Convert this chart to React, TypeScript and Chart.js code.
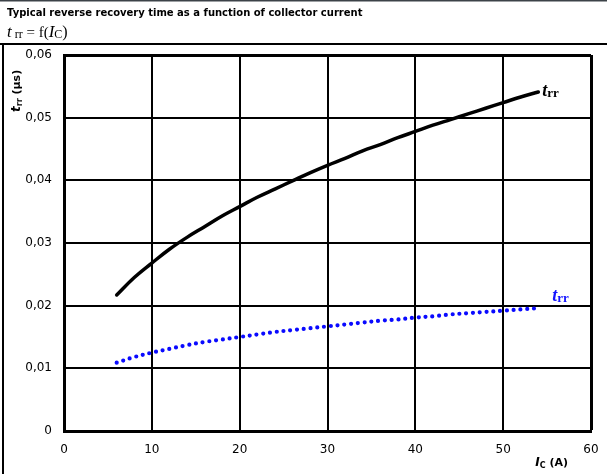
import React, { useEffect, useRef } from 'react';
import { Chart, registerables } from 'chart.js';

Chart.register(...registerables);

// Collector current I_C (A)
const currentA = [6, 8, 10, 12, 14, 16, 18, 20, 22, 24, 26, 28, 30, 32, 34, 36, 38, 40, 42, 44, 46, 48, 50, 52, 54];
// t_rr (µs) black solid curve
const trrBlack = [0.0217, 0.0245, 0.0268, 0.029, 0.0309, 0.0326, 0.0343, 0.0358, 0.0373, 0.0386, 0.0399, 0.0412, 0.0424, 0.0435, 0.0447, 0.0457, 0.0468, 0.0478, 0.0488, 0.0497, 0.0506, 0.0515, 0.0524, 0.0533, 0.0541];
// t_rr (µs) blue dotted curve
const trrBlue = [0.0109, 0.0118, 0.0125, 0.0131, 0.0137, 0.0142, 0.0146, 0.015, 0.0154, 0.0158, 0.0161, 0.0164, 0.0167, 0.017, 0.0173, 0.0176, 0.0178, 0.0181, 0.0183, 0.0186, 0.0188, 0.019, 0.0192, 0.0194, 0.0196];

const xTicks = [0, 10, 20, 30, 40, 50, 60];
const yTicks = [0, 0.01, 0.02, 0.03, 0.04, 0.05, 0.06];

const TITLE = 'Typical reverse recovery time as a function of collector current';

type Run = { t: string; font: string; dy?: number };

function runsWidth(ctx: CanvasRenderingContext2D, runs: Run[]) {
  let w = 0;
  for (const r of runs) {
    ctx.font = r.font;
    w += ctx.measureText(r.t).width;
  }
  return w;
}

function drawRuns(ctx: CanvasRenderingContext2D, x: number, y: number, runs: Run[]) {
  let cx = x;
  for (const r of runs) {
    ctx.font = r.font;
    ctx.fillText(r.t, cx, y + (r.dy || 0));
    cx += ctx.measureText(r.t).width;
  }
  return cx;
}

const SERIF = '"Liberation Serif"';
const SANS = '"DejaVu Sans"';

const decor = {
  id: 'decor',
  beforeDraw(chart: any) {
    const ctx: CanvasRenderingContext2D = chart.ctx;
    const W = chart.width;
    const H = chart.height;
    ctx.save();
    ctx.fillStyle = '#fff';
    ctx.fillRect(0, 0, W, H);
    ctx.fillStyle = '#3c4248';
    ctx.fillRect(0, 0, W, 1.5);
    ctx.fillStyle = '#000';
    ctx.fillRect(0, 43, W, 2);
    ctx.fillRect(2, 43, 2, H - 43);
    ctx.textBaseline = 'alphabetic';
    ctx.textAlign = 'left';
    ctx.font = `bold 10px ${SANS}`;
    ctx.fillText(TITLE, 7, 16);
    drawRuns(ctx, 7, 37, [
      { t: 't', font: `italic 17px ${SERIF}` },
      { t: ' rr', font: `12px ${SERIF}`, dy: 1 },
      { t: ' = f(', font: `15px ${SERIF}` },
      { t: 'I', font: `italic 17px ${SERIF}` },
      { t: 'C', font: `12px ${SERIF}`, dy: 1 },
      { t: ')', font: `16px ${SERIF}` },
    ]);
    ctx.restore();
  },
  afterDraw(chart: any) {
    const ctx: CanvasRenderingContext2D = chart.ctx;
    const xs = chart.scales.x;
    const ys = chart.scales.y;
    ctx.save();
    ctx.textBaseline = 'alphabetic';
    ctx.textAlign = 'left';
    ctx.fillStyle = '#000';

    // y axis title (rotated)
    ctx.save();
    ctx.translate(20, 112);
    ctx.rotate(-Math.PI / 2);
    drawRuns(ctx, 0, 0, [
      { t: 't', font: `bold italic 12px ${SANS}` },
      { t: 'rr', font: `bold 8px ${SANS}`, dy: 2 },
      { t: ' (µs)', font: `bold 11px ${SANS}` },
    ]);
    ctx.restore();

    // x axis title
    const xRuns: Run[] = [
      { t: 'I', font: `bold italic 12px ${SANS}` },
      { t: 'C', font: `bold 8px ${SANS}`, dy: 2 },
      { t: ' (A)', font: `bold 11px ${SANS}` },
    ];
    const xw = runsWidth(ctx, xRuns);
    drawRuns(ctx, 568 - xw, 466, xRuns);

    // curve labels
    const n = currentA.length - 1;
    const bx = xs.getPixelForValue(currentA[n]);
    const byB = ys.getPixelForValue(trrBlack[n]);
    const byU = ys.getPixelForValue(trrBlue[n]);
    ctx.fillStyle = '#000';
    drawRuns(ctx, bx + 4, byB + 4, [
      { t: 't', font: `bold italic 18px ${SERIF}` },
      { t: 'rr', font: `bold 13px ${SERIF}`, dy: 1 },
    ]);
    ctx.fillStyle = '#1414ff';
    drawRuns(ctx, bx + 14, byU - 7, [
      { t: 't', font: `bold italic 18px ${SERIF}` },
      { t: 'rr', font: `bold 13px ${SERIF}`, dy: 1 },
    ]);
    ctx.restore();
  },
};

export default function App() {
  const ref = useRef<HTMLCanvasElement | null>(null);

  useEffect(() => {
    if (!ref.current) return;
    const chart = new Chart(ref.current, {
      type: 'line',
      data: {
        datasets: [
          {
            label: 'trr black',
            data: currentA.map((x, i) => ({ x, y: trrBlack[i] })),
            borderColor: '#000',
            borderWidth: 3.5,
            borderCapStyle: 'round',
            pointRadius: 0,
            tension: 0.4,
            fill: false,
          },
          {
            label: 'trr blue',
            data: currentA.map((x, i) => ({ x, y: trrBlue[i] })),
            borderColor: '#0a0aff',
            borderWidth: 4.2,
            borderCapStyle: 'round',
            borderDash: [0, 6.8],
            pointRadius: 0,
            tension: 0.4,
            fill: false,
          },
        ],
      },
      options: {
        responsive: false,
        animation: false,
        devicePixelRatio: 1,
        layout: { padding: { left: 0, top: 55, right: 16, bottom: 0 } },
        plugins: {
          legend: { display: false },
          tooltip: { enabled: false },
          title: { display: false },
        },
        scales: {
          x: {
            type: 'linear',
            min: 0,
            max: 60,
            afterBuildTicks: (s: any) => {
              s.ticks = xTicks.map((v) => ({ value: v }));
            },
            afterFit: (s: any) => {
              s.height = 43;
              s.paddingLeft = 0;
              s.paddingRight = 0;
            },
            ticks: {
              padding: 12,
              color: '#000',
              font: { family: 'DejaVu Sans', size: 12 },
              maxRotation: 0,
              autoSkip: false,
            },
            grid: {
              color: '#000',
              lineWidth: (c: any) => (c.tick && c.tick.value === 60 ? 3 : 2),
              drawTicks: false,
            },
            border: { color: '#000', width: 3 },
          },
          y: {
            type: 'linear',
            min: 0,
            max: 0.06,
            afterBuildTicks: (s: any) => {
              s.ticks = yTicks.map((v) => ({ value: v }));
            },
            afterFit: (s: any) => {
              s.width = 64;
              s.paddingTop = 0;
              s.paddingBottom = 0;
            },
            ticks: {
              padding: 12,
              color: '#000',
              font: { family: 'DejaVu Sans', size: 12 },
              autoSkip: false,
              callback: (v: any) => (Number(v) === 0 ? '0' : Number(v).toFixed(2).replace('.', ',')),
            },
            grid: {
              color: '#000',
              lineWidth: (c: any) => (c.tick && Math.abs(c.tick.value - 0.06) < 1e-9 ? 3 : 2),
              drawTicks: false,
            },
            border: { color: '#000', width: 3 },
          },
        },
      },
      plugins: [decor],
    } as any);
    return () => chart.destroy();
  }, []);

  return (
    <div style={{ position: 'fixed', left: 0, top: 0, width: 607, height: 474, background: '#fff' }}>
      <canvas ref={ref} width={607} height={474} />
    </div>
  );
}
